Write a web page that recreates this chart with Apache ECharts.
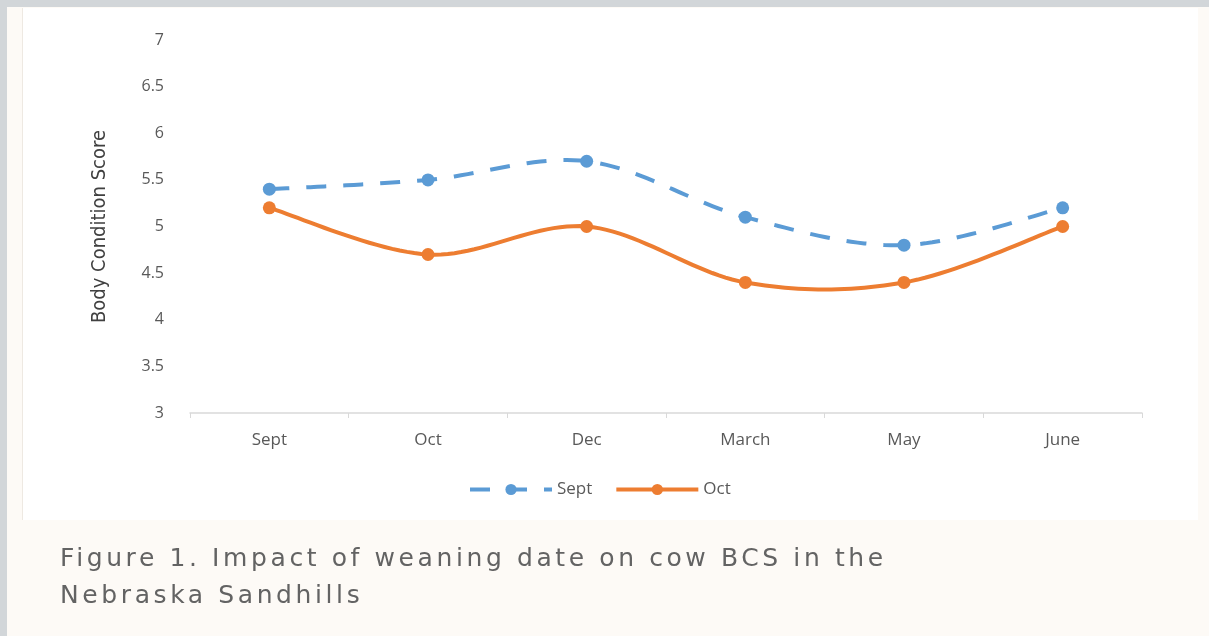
<!DOCTYPE html>
<html>
<head>
<meta charset="utf-8">
<script src="https://cdn.jsdelivr.net/npm/echarts@6/dist/echarts.min.js"></script>
<style>
  html, body { margin: 0; padding: 0; width: 1209px; height: 636px; overflow: hidden; background: #d2d6d9; }
  #frame { position: absolute; left: 7px; top: 7px; width: 1202px; height: 629px; background: #fdfaf6; }
  #panel { position: absolute; left: 22px; top: 8px; width: 1175px; height: 512px; background: #ffffff; border-left: 1px solid #eee9e2; }
  #chart { position: absolute; left: 0; top: 0; width: 1209px; height: 636px; }
  #caption { position: absolute; left: 60px; top: 539px; font-family: "DejaVu Sans", sans-serif; font-size: 25px; line-height: 37px; color: #636363; letter-spacing: 3.6px; white-space: nowrap; }
</style>
</head>
<body>
<div id="frame"></div>
<div id="panel"></div>
<div id="chart"></div>
<div id="caption">Figure 1. Impact of weaning date on cow BCS in the<br>Nebraska Sandhills</div>
<script>
// Cow body condition score by month, grouped by weaning date
const months = ['Sept', 'Oct', 'Dec', 'March', 'May', 'June'];
const septWeaned = [5.4, 5.5, 5.7, 5.1, 4.8, 5.2];
const octWeaned = [5.2, 4.7, 5.0, 4.4, 4.4, 5.0];
const yTicks = { min: 3, max: 7, step: 0.5 };

const BLUE = '#5b9bd5';
const ORANGE = '#ed7d31';
const labelColor = '#595959';
const font = '"Open Sans", sans-serif';

// Cardinal-spline curve through the series points (spreadsheet-style smoothing),
// sampled into a polyline in pixel space via the axis scales.
function smoothCurve(values, api) {
  const pts = values.map((v, i) => api.coord([i, v]));
  const out = [];
  const steps = 24;
  for (let i = 0; i < pts.length - 1; i++) {
    const p0 = pts[Math.max(i - 1, 0)];
    const p1 = pts[i];
    const p2 = pts[i + 1];
    const p3 = pts[Math.min(i + 2, pts.length - 1)];
    const c1 = [p1[0] + (p2[0] - p0[0]) / 6, p1[1] + (p2[1] - p0[1]) / 6];
    const c2 = [p2[0] - (p3[0] - p1[0]) / 6, p2[1] - (p3[1] - p1[1]) / 6];
    for (let s = (i === 0 ? 0 : 1); s <= steps; s++) {
      const t = s / steps, u = 1 - t;
      out.push([
        u * u * u * p1[0] + 3 * u * u * t * c1[0] + 3 * u * t * t * c2[0] + t * t * t * p2[0],
        u * u * u * p1[1] + 3 * u * u * t * c1[1] + 3 * u * t * t * c2[1] + t * t * t * p2[1]
      ]);
    }
  }
  return out;
}

function curveSeries(name, values, color, dash) {
  return {
    name: name,
    type: 'custom',
    silent: true,
    z: 1,
    data: values.map((v, i) => [i, v]),
    renderItem: function (params, api) {
      if (params.dataIndex !== 0) return null;
      return {
        type: 'polyline',
        shape: { points: smoothCurve(values, api) },
        style: { stroke: color, lineWidth: 4, fill: null, lineDash: dash, lineCap: 'butt' }
      };
    }
  };
}

function markerSeries(name, values, color) {
  return {
    name: name,
    type: 'line',
    z: 3,
    data: values,
    symbol: 'circle',
    symbolSize: 13,
    itemStyle: { color: color },
    lineStyle: { color: color, width: 4, opacity: 0 }
  };
}

const chart = echarts.init(document.getElementById('chart'), null, { renderer: 'canvas' });

chart.setOption({
  backgroundColor: 'transparent',
  animation: false,
  grid: { left: 190, right: 67, top: 40, bottom: 223 },
  legend: {
    left: 463, top: 476,
    itemWidth: 82, itemHeight: 14, itemGap: 22,
    textStyle: { color: labelColor, fontFamily: font, fontSize: 17 },
    data: [
      { name: 'Sept', lineStyle: { color: BLUE, width: 4, opacity: 1, type: [20, 17] } },
      { name: 'Oct', lineStyle: { color: ORANGE, width: 4, opacity: 1, type: 'solid' } }
    ]
  },
  xAxis: {
    type: 'category',
    data: months,
    boundaryGap: true,
    axisLine: { lineStyle: { color: '#d9d9d9', width: 1.5 } },
    axisTick: { show: true, alignWithLabel: false, length: 5, lineStyle: { color: '#d9d9d9' } },
    axisLabel: { color: labelColor, fontFamily: font, fontSize: 17, margin: 19 }
  },
  yAxis: {
    type: 'value',
    min: yTicks.min, max: yTicks.max, interval: yTicks.step,
    name: 'Body Condition Score',
    nameLocation: 'middle',
    nameGap: 80,
    nameRotate: 90,
    nameTextStyle: { color: '#404040', fontFamily: '"Liberation Sans Narrow", "DejaVu Sans Condensed", sans-serif', fontSize: 20 },
    axisLine: { show: false },
    axisTick: { show: false },
    splitLine: { show: false },
    axisLabel: { color: labelColor, fontFamily: font, fontSize: 16, margin: 26 }
  },
  series: [
    curveSeries('Sept curve', septWeaned, BLUE, [20, 17]),
    curveSeries('Oct curve', octWeaned, ORANGE, null),
    markerSeries('Sept', septWeaned, BLUE),
    markerSeries('Oct', octWeaned, ORANGE)
  ]
});
</script>
</body>
</html>
